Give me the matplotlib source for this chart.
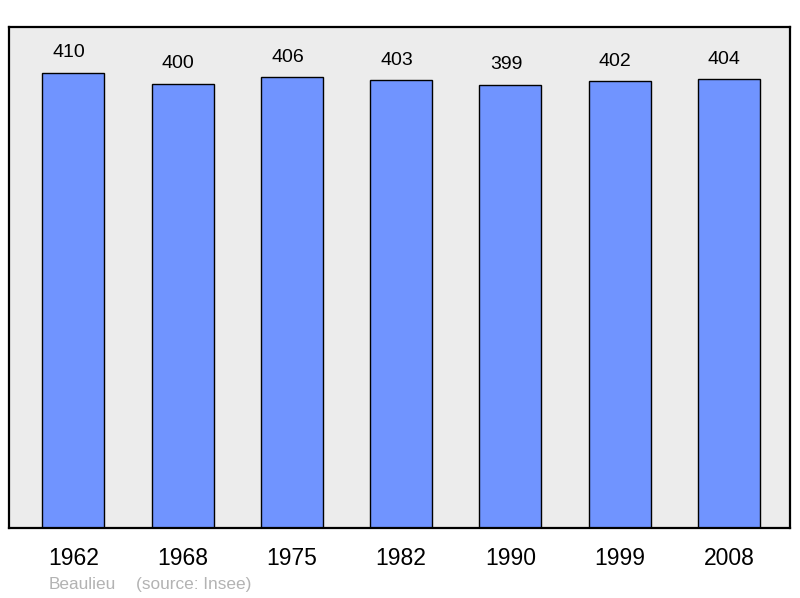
import numpy as np
import matplotlib.pyplot as plt

plt.rcParams['font.family'] = ['Liberation Sans', 'DejaVu Sans']

years = ["1962", "1968", "1975", "1982", "1990", "1999", "2008"]
population = [410, 400, 406, 403, 399, 402, 404]
place = "Beaulieu"
source = "(source: Insee)"


def main():
    fig = plt.figure(figsize=(8, 5.98), dpi=100)
    ax = fig.add_axes([9 / 800, 70 / 598, 781 / 800, 501 / 598])
    ax.set_facecolor("#ececec")
    ind = np.arange(len(years))
    ax.bar(ind, population, 0.567, color="#7094ff", edgecolor="black", linewidth=1.0, zorder=2)
    for x, v in zip(ind, population):
        ax.annotate(str(v), (x, v), xytext=(-3.2, 11), textcoords="offset points",
                    ha="center", va="baseline", fontsize=14)
    ax.set_xlim(-0.59, 6.56)
    ax.set_ylim(0, 451)
    ax.set_yticks([])
    ax.set_xticks(ind)
    ax.set_xticklabels(years, fontsize=16.5)
    ax.tick_params(axis="x", length=0, pad=13.5)
    for s in ax.spines.values():
        s.set_linewidth(1.6)
    fig.text(49 / 800, 1 - 589 / 598, place, color="#b3b3b3", fontsize=12.4, va="baseline")
    fig.text(136 / 800, 1 - 589 / 598, source, color="#b3b3b3", fontsize=12.4, va="baseline")
    fig.savefig("out.png", dpi=100)


if __name__ == "__main__":
    main()
